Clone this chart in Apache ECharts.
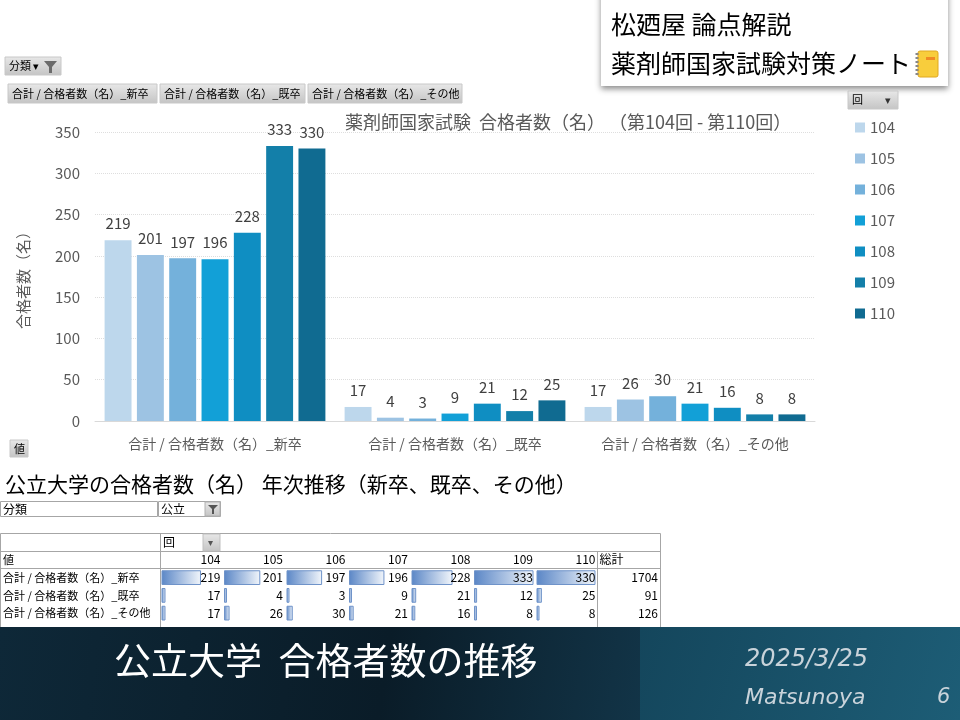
<!DOCTYPE html>
<html>
<head>
<meta charset="utf-8">
<script src="https://cdn.jsdelivr.net/npm/echarts@6/dist/echarts.min.js"></script>
<style>
  html, body { margin: 0; padding: 0; background: #fff; }
  #main { width: 960px; height: 720px; }
</style>
</head>
<body>
<div id="main"></div>
<script>
// 回（第104回〜第110回）
const rounds = ['104', '105', '106', '107', '108', '109', '110'];
const categories = ['合計 / 合格者数（名）_新卒', '合計 / 合格者数（名）_既卒', '合計 / 合格者数（名）_その他'];
// 公立大学 合格者数
const shinsotsu = [219, 201, 197, 196, 228, 333, 330];
const kisotsu = [17, 4, 3, 9, 21, 12, 25];
const sonota = [17, 26, 30, 21, 16, 8, 8];
const yTicks = [0, 350, 50]; // min, max, interval

const roundColors = ['#bdd7ec', '#9dc3e3', '#74b1db', '#12a0d7', '#0f8ec2', '#137fa9', '#106b91'];
const FONT = '"Noto Sans CJK JP", "Noto Sans", sans-serif';

const chart = echarts.init(document.getElementById('main'));

// ピボットテーブル部分（custom series 用）
const tableRows = [shinsotsu, kisotsu, sonota];
const rowLabels = ['値'].concat(categories);
const barMax = Math.max(...shinsotsu, ...kisotsu, ...sonota);
const tableData = [];
rounds.forEach((r, i) => tableData.push([i, 0, Number(r), 0]));
tableData.push([7, 0, 0, 3]);
tableRows.forEach((arr, r) => {
  arr.forEach((v, i) => tableData.push([i, r + 1, v, 1]));
  tableData.push([7, r + 1, arr.reduce((a, b) => a + b, 0), 2]);
});

function renderCell(params, api) {
  const col = api.value(0), row = api.value(1), num = api.value(2), kind = api.value(3);
  const p = api.coord([col, row]);
  const cw = api.size([1, 0])[0];
  const rh = api.size([0, 1])[1];
  const children = [];
  const txt = (x, text, align) => ({
    type: 'text',
    style: { x: x, y: p[1], text: text, align: align, verticalAlign: 'middle',
      fill: '#000', font: '12px ' + FONT }
  });
  if (kind === 1) {
    const w = Math.max(2, num / barMax * (cw - 4));
    children.push({
      type: 'rect',
      shape: { x: p[0] + 2, y: p[1] - rh / 2 + 2, width: w, height: rh - 4 },
      style: {
        fill: new echarts.graphic.LinearGradient(0, 0, 1, 0, [
          { offset: 0, color: '#5a86c6' }, { offset: 1, color: '#f2f6fb' }
        ]),
        stroke: '#6f93c9', lineWidth: 1
      }
    });
  }
  if (kind === 3) children.push(txt(p[0] + 2, '総計', 'left'));
  else children.push(txt(p[0] + cw - 2, String(num), 'right'));
  return { type: 'group', children: children };
}

const btnFill = new echarts.graphic.LinearGradient(0, 0, 0, 1, [
  { offset: 0, color: '#e8e8e8' }, { offset: 1, color: '#c4c4c4' }
]);
function button(x, y, w, h, text) {
  return [
    { type: 'rect', shape: { x: x, y: y, width: w, height: h }, style: { fill: btnFill, stroke: '#c8c8c8' } },
    { type: 'text', x: x + 4, y: y + h / 2, style: { text: text, fill: '#000', font: '11px ' + FONT, verticalAlign: 'middle' } }
  ];
}
function line(x1, y1, x2, y2, c) {
  return { type: 'line', shape: { x1: x1, y1: y1, x2: x2, y2: y2 }, style: { stroke: c || '#a6a6a6', lineWidth: 1 } };
}

const graphics = [].concat(
  // タイトルボックス（右上）
  [{ type: 'rect', shape: { x: 601, y: -10, width: 347, height: 96 },
     style: { fill: '#fff', shadowBlur: 6, shadowOffsetY: 3, shadowColor: 'rgba(0,0,0,0.45)' } },
   { type: 'text', x: 611, y: 24, style: { text: '松廼屋 論点解説', fill: '#000', font: '25px ' + FONT, verticalAlign: 'middle' } },
   { type: 'text', x: 611, y: 63, style: { text: '薬剤師国家試験対策ノート', fill: '#000', font: '25px ' + FONT, verticalAlign: 'middle' } },
   { type: 'rect', shape: { x: 918, y: 51, width: 20, height: 26, r: 2 }, style: { fill: '#f8cd3c', stroke: '#e0a820' } },
   { type: 'rect', shape: { x: 926, y: 57, width: 9, height: 3 }, style: { fill: '#f08a24' } },
   { type: 'line', shape: { x1: 917, y1: 53, x2: 917, y2: 76 }, style: { stroke: '#888', lineWidth: 3, lineDash: [2, 2] } }],
  // ピボットグラフのフィールドボタン
  button(5, 57, 56, 18, '分類 ▾'),
  [{ type: 'polygon', shape: { points: [[44, 61], [57, 61], [52, 67], [52, 73], [49, 73], [49, 67]] }, style: { fill: '#6b6b6b' } }],
  button(8, 84, 149, 19, '合計 / 合格者数（名）_新卒'),
  button(160, 84, 145, 19, '合計 / 合格者数（名）_既卒'),
  button(308, 84, 154, 19, '合計 / 合格者数（名）_その他'),
  button(10, 440, 18, 17, '値'),
  button(848, 91, 50, 18, '回'),
  [{ type: 'text', x: 885, y: 100, style: { text: '▾', fill: '#333', font: '11px ' + FONT, verticalAlign: 'middle' } }],
  // 見出し
  [{ type: 'text', x: 5, y: 484, style: { text: '公立大学の合格者数（名） 年次推移（新卒、既卒、その他）', fill: '#000', font: '21px ' + FONT, verticalAlign: 'middle' } }],
  // ピボットテーブル枠
  [{ type: 'rect', shape: { x: 0.5, y: 501.5, width: 157, height: 15 }, style: { fill: 'none', stroke: '#a6a6a6' } },
   { type: 'rect', shape: { x: 158.5, y: 501.5, width: 62, height: 15 }, style: { fill: 'none', stroke: '#a6a6a6' } },
   { type: 'text', x: 3, y: 509, style: { text: '分類', fill: '#000', font: '12px ' + FONT, verticalAlign: 'middle' } },
   { type: 'text', x: 161, y: 509, style: { text: '公立', fill: '#000', font: '12px ' + FONT, verticalAlign: 'middle' } },
   { type: 'rect', shape: { x: 205, y: 502, width: 15, height: 14 }, style: { fill: btnFill, stroke: '#b0b0b0' } },
   { type: 'polygon', shape: { points: [[208, 505], [218, 505], [214, 509], [214, 514], [212, 514], [212, 509]] }, style: { fill: '#555' } },
   { type: 'rect', shape: { x: 0.5, y: 533.5, width: 660, height: 100 }, style: { fill: 'none', stroke: '#a6a6a6' } },
   line(0, 551.5, 660, 551.5),
   line(0, 568.5, 660, 568.5),
   line(160.5, 533, 160.5, 630),
   line(597.5, 551, 597.5, 630),
   { type: 'text', x: 163, y: 542, style: { text: '回', fill: '#000', font: '12px ' + FONT, verticalAlign: 'middle' } },
   { type: 'rect', shape: { x: 203, y: 534, width: 17, height: 17 }, style: { fill: btnFill, stroke: '#c0c0c0' } },
   { type: 'text', x: 208, y: 542, style: { text: '▾', fill: '#555', font: '10px ' + FONT, verticalAlign: 'middle' } }],
  // フッター
  [{ type: 'rect', shape: { x: 0, y: 627, width: 640, height: 93 },
     style: { fill: new echarts.graphic.LinearGradient(0, 0, 1, 1, [
       { offset: 0, color: '#0e2838' }, { offset: 0.6, color: '#0a1c28' }, { offset: 1, color: '#123447' }]) } },
   { type: 'rect', shape: { x: 640, y: 627, width: 320, height: 93 },
     style: { fill: new echarts.graphic.LinearGradient(0, 0, 1, 1, [
       { offset: 0, color: '#14465c' }, { offset: 1, color: '#1d5d76' }]) } },
   { type: 'text', x: 114, y: 661, style: { text: '公立大学  合格者数の推移', fill: '#fff', font: '37px ' + FONT, verticalAlign: 'middle' } },
   { type: 'text', x: 745, y: 660, style: { text: '2025/3/25', fill: '#c9d3da', font: 'italic 300 24px "DejaVu Sans"', verticalAlign: 'middle' } },
   { type: 'text', x: 745, y: 698, style: { text: 'Matsunoya', fill: '#c9d3da', font: 'italic 300 22px "DejaVu Sans"', verticalAlign: 'middle' } },
   { type: 'text', x: 937, y: 698, style: { text: '6', fill: '#c9d3da', font: 'italic 300 21px "DejaVu Sans"', verticalAlign: 'middle' } }]
);

const option = {
  backgroundColor: '#fff',
  animation: false,
  textStyle: { fontFamily: FONT },
  title: {
    text: '薬剤師国家試験  合格者数（名） （第104回 - 第110回）',
    left: 340, top: 108,
    textStyle: { fontSize: 18, fontWeight: 'normal', color: '#595959' }
  },
  legend: {
    data: rounds,
    orient: 'vertical',
    left: 850, top: 115,
    icon: 'rect', itemWidth: 10, itemHeight: 10, itemGap: 16,
    textStyle: { fontSize: 15, color: '#595959' }
  },
  grid: [
    { left: 95, right: 145, top: 132, bottom: 299 },
    { left: 160, width: 500, top: 551, height: 71 }
  ],
  xAxis: [
    {
      type: 'category', data: categories, gridIndex: 0,
      axisLine: { lineStyle: { color: '#d9d9d9' } },
      axisTick: { show: false },
      axisLabel: { fontSize: 14, color: '#595959', margin: 16, interval: 0 }
    },
    { type: 'value', gridIndex: 1, min: 0, max: 8, show: false }
  ],
  yAxis: [
    {
      type: 'value', gridIndex: 0, min: yTicks[0], max: yTicks[1], interval: yTicks[2],
      name: '合格者数（名）', nameLocation: 'middle', nameGap: 64,
      nameTextStyle: { fontSize: 15, color: '#595959' },
      axisLine: { show: false }, axisTick: { show: false },
      axisLabel: { fontSize: 15, color: '#595959', margin: 15 },
      splitLine: { lineStyle: { color: '#dedede', type: 'dotted' } }
    },
    {
      type: 'category', gridIndex: 1, data: rowLabels, inverse: true,
      axisLine: { show: false }, axisTick: { show: false }, splitLine: { show: false },
      axisLabel: { align: 'left', margin: 157, fontSize: 11, color: '#000' }
    }
  ],
  series: rounds.map((r, i) => ({
    name: r,
    type: 'bar',
    xAxisIndex: 0, yAxisIndex: 0,
    data: [shinsotsu[i], kisotsu[i], sonota[i]],
    itemStyle: { color: roundColors[i] },
    barGap: '20%',
    barCategoryGap: '8%',
    label: { show: true, position: 'top', distance: 9, fontSize: 15, color: '#404040' }
  })).concat([{
    type: 'custom',
    xAxisIndex: 1, yAxisIndex: 1,
    data: tableData,
    encode: { x: 0, y: 1 },
    renderItem: renderCell,
    silent: true
  }]),
  graphic: graphics
};

chart.setOption(option);
</script>
</body>
</html>
